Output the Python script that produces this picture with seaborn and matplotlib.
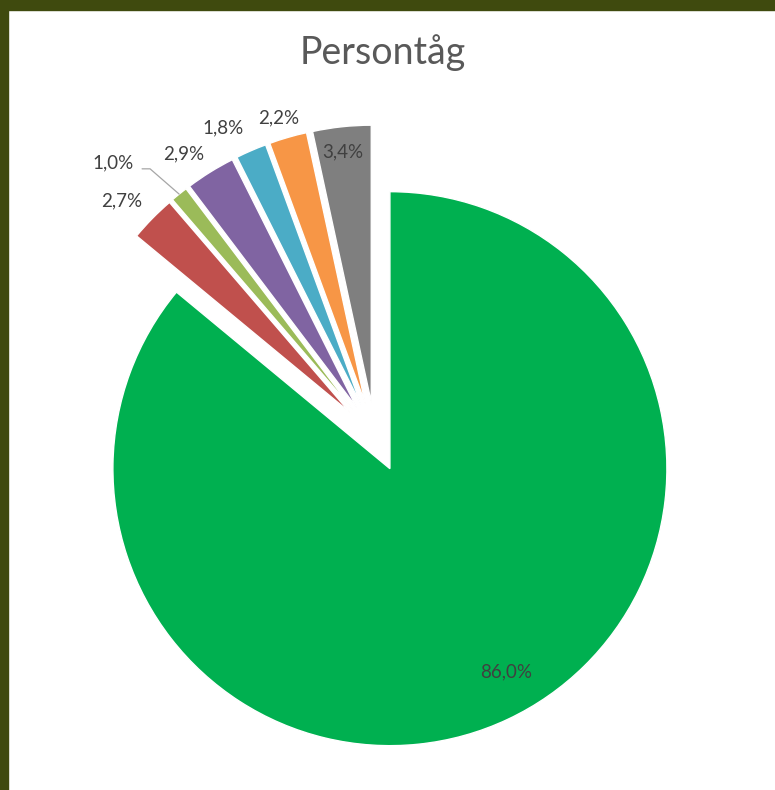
import matplotlib
matplotlib.use('Agg')
import matplotlib.pyplot as plt
import numpy as np
import seaborn as sns
from matplotlib.patches import Rectangle

# Values per slice, clockwise from 12 o'clock
shares = [86.0, 2.7, 1.0, 2.9, 1.8, 2.2, 3.4]
pct_labels = ['86,0%', '2,7%', '1,0%', '2,9%', '1,8%', '2,2%', '3,4%']
slice_colors = ['#00B050', '#C0504D', '#9BBB59', '#8064A2', '#4BACC6', '#F79646', '#7F7F7F']
title = 'Persontåg'

# label placement relative to its wedge: radius factor and clockwise tweak (deg)
label_k = [0.846, 1.123, 1.243, 1.107, 1.117, 1.077, 0.911]
label_dtheta = [-4.5, -1.65, -5.3, -2.46, -3.1, -0.7, -0.4]
leader = [False, False, True, False, False, False, False]

W, H = 775, 790
sns.set_style('white')
plt.rcParams['font.family'] = ['Lato', 'DejaVu Sans']

fig = plt.figure(figsize=(W / 100, H / 100), dpi=100)
fig.patch.set_facecolor('white')
ax = fig.add_axes([0, 0, 1, 1])

center = (375, H - 437)
radius = 277
wedges, _ = ax.pie(shares, colors=sns.color_palette(slice_colors), startangle=90,
                   counterclock=False, explode=[35] * len(shares),
                   center=center, radius=radius,
                   wedgeprops=dict(edgecolor='white', linewidth=1.0))
ax.set_xlim(0, W)
ax.set_ylim(0, H)
ax.set_aspect('equal')
ax.axis('off')

for w, lab, k, dt, lead in zip(wedges, pct_labels, label_k, label_dtheta, leader):
    a_bis = np.deg2rad((w.theta1 + w.theta2) / 2)
    a = a_bis - np.deg2rad(dt)
    cx, cy = w.center
    lx = cx + k * w.r * np.cos(a)
    ly = cy + k * w.r * np.sin(a)
    ax.text(lx, ly, lab, ha='center', va='center', fontsize=13.5, color='#404040')
    if lead:
        ex = cx + w.r * np.cos(a_bis)
        ey = cy + w.r * np.sin(a_bis)
        ax.plot([lx + 29, lx + 37, ex], [ly - 6, ly - 6, ey],
                color='#a6a6a6', linewidth=0.9)

fig.text(383 / W, 1 - 64 / H, title, ha='center', va='baseline',
         fontsize=27, color='#595959')

# dark frame at top and left edge of the screenshot
fig.add_artist(Rectangle((0, 1 - 10 / H), 1, 10 / H, transform=fig.transFigure,
                         color='#3f4a0e', zorder=10))
fig.add_artist(Rectangle((0, 0), 8 / W, 1, transform=fig.transFigure,
                         color='#3f4a0e', zorder=10))

fig.savefig('out.png', dpi=100)
